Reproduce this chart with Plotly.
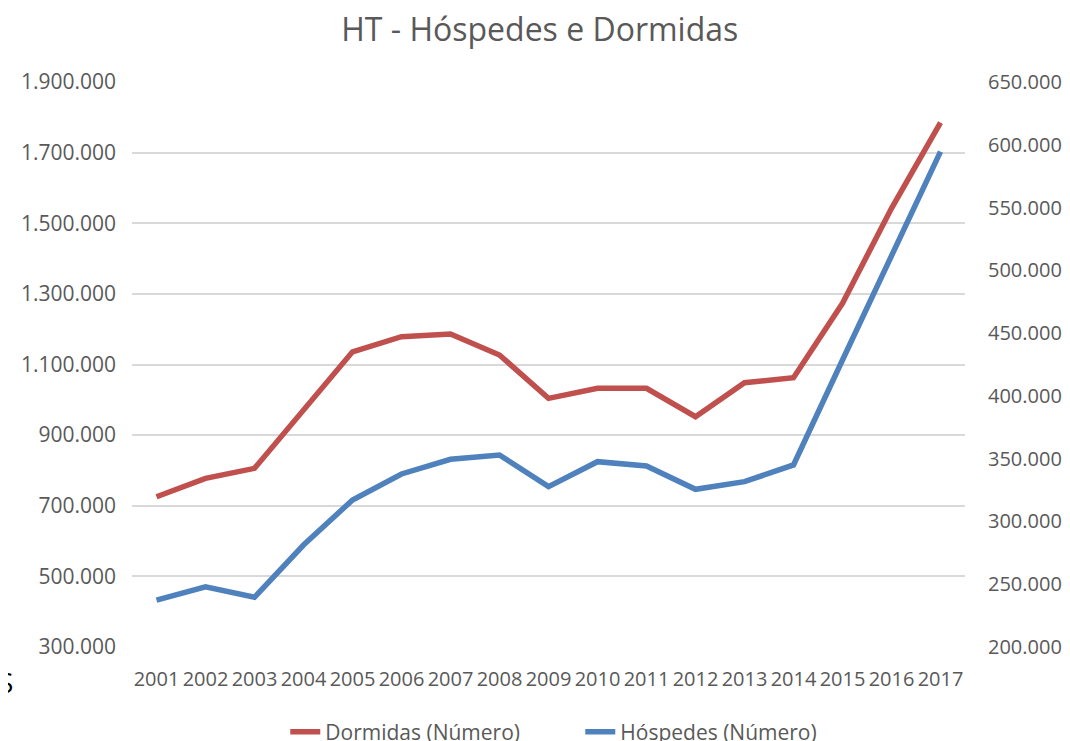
import plotly.graph_objects as go

anos = ["2001", "2002", "2003", "2004", "2005", "2006", "2007", "2008", "2009",
        "2010", "2011", "2012", "2013", "2014", "2015", "2016", "2017"]
dormidas = [725600, 777700, 806000, 970000, 1136000, 1178700, 1186400, 1126900, 1004200,
            1032600, 1032600, 952200, 1048500, 1062600, 1273300, 1542300, 1784800]
hospedes = [237400, 248000, 239600, 281200, 317100, 337800, 349500, 352900, 327700,
            347600, 344200, 325600, 331700, 345000, 428600, 510900, 594500]

left_ticks = list(range(300000, 1900001, 200000))
right_ticks = list(range(200000, 650001, 50000))


def fmt(v):
    return f"{v:,}".replace(",", ".")


FONT = "Open Sans, sans-serif"
GREY = "#595959"

fig = go.Figure()
fig.add_trace(go.Scatter(x=anos, y=dormidas, mode="lines", name="Dormidas (Número)",
                         line=dict(color="#C0504D", width=5.5), yaxis="y"))
fig.add_trace(go.Scatter(x=anos, y=hospedes, mode="lines", name="Hóspedes (Número)",
                         line=dict(color="#4F81BD", width=5.5), yaxis="y2"))

# the page body has an 8px margin, so the figure is laid out 8px up/left
fig.update_layout(
    width=1070, height=741,
    margin=dict(l=124, r=113, t=74, b=102, autoexpand=False),
    paper_bgcolor="white", plot_bgcolor="white",
    title=dict(text="HT - Hóspedes e Dormidas", x=0.497, xanchor="center",
               y=0.970, yanchor="middle",
               font=dict(family=FONT, size=32, color=GREY)),
    xaxis=dict(type="category", range=[-0.5, 16.5], showgrid=False, showline=False,
               ticks="", tickangle=0, ticklabelstandoff=18, automargin=False,
               tickfont=dict(family=FONT, size=20, color=GREY)),
    yaxis=dict(range=[300000, 1900000], tickvals=left_ticks,
               ticktext=[fmt(v) for v in left_ticks], automargin=False,
               showgrid=True, gridcolor="#D9D9D9", gridwidth=2,
               zeroline=False, showline=False, ticks="", ticklabelstandoff=15,
               tickfont=dict(family=FONT, size=21, color=GREY)),
    yaxis2=dict(range=[200000, 650000], tickvals=right_ticks,
                ticktext=[fmt(v) for v in right_ticks], automargin=False,
                overlaying="y", side="right", showgrid=False, zeroline=False,
                showline=False, ticks="", ticklabelstandoff=22,
                tickfont=dict(family=FONT, size=20, color=GREY)),
    legend=dict(orientation="h", x=0.184, xanchor="left", y=-0.1144, yanchor="top",
                entrywidth=250, entrywidthmode="pixels",
                font=dict(family=FONT, size=21, color=GREY), traceorder="normal"),
    showlegend=True,
)

fig.add_annotation(text="S", xref="paper", yref="paper", x=-0.1405, y=-0.062,
                   xanchor="right", yanchor="middle", showarrow=False,
                   font=dict(family=FONT, size=28, color="black"))

fig.write_html("out.html")
